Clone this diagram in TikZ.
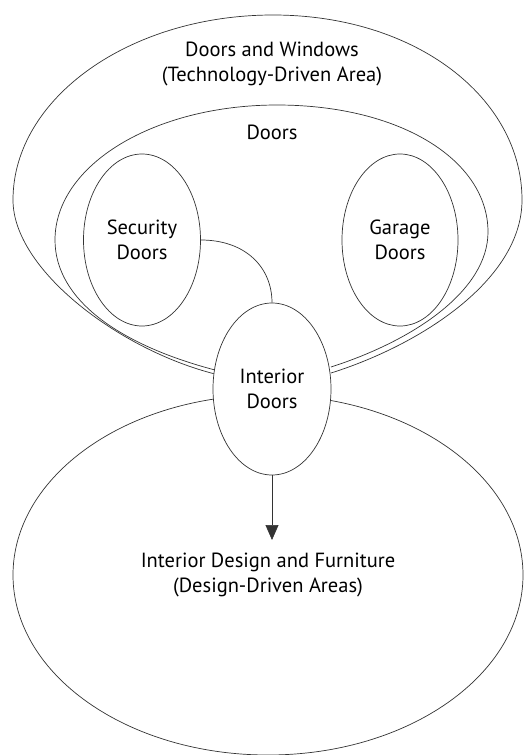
\documentclass[tikz,border=0pt]{standalone}
\usepackage{fontspec}
\setmainfont{PT Sans}
\usetikzlibrary{shapes.geometric, arrows.meta, positioning}
\definecolor{linegray}{HTML}{333333}

\begin{document}
\begin{tikzpicture}[
  x=1pt, y=-1pt,
  region/.style={draw=linegray, line width=0.7pt},
  zone/.style={ellipse, draw=linegray, line width=0.7pt, fill=white, align=center, font=\fontsize{20.5}{25}\selectfont, inner sep=0pt},
  tag/.style={align=center, font=\fontsize{20.5}{25}\selectfont},
  arrow/.style={-{Triangle[length=15pt, width=13pt]}, draw=linegray, line width=0.7pt}
]
  \useasboundingbox (0,0) rectangle (526,755);

  % outer regions, closing under the interior doors node
  \draw[region] (215,374) .. controls (120,350) and (13,270) .. (13,200)
    .. controls (13,98) and (130,15) .. (273,15)
    .. controls (416,15) and (522,98) .. (522,200)
    .. controls (522,280) and (420,345) .. (331,373);
  \draw[region] (215,370) .. controls (120,345) and (55,300) .. (55,240)
    .. controls (55,165) and (154,105) .. (277,105)
    .. controls (400,105) and (488,160) .. (488,232)
    .. controls (488,290) and (415,340) .. (331,367);

  \node[tag] (windows) at (272,64) {Doors and Windows\\(Technology-Driven Area)};
  \node[tag] (doors) at (272,132) {Doors};

  \node[zone, minimum width=510, minimum height=360] (design) at (268,575)
    {Interior Design and Furniture\\(Design-Driven Areas)};

  \node[zone, minimum width=117, minimum height=172] (security) at (142,240) {Security\\Doors};
  \node[zone, minimum width=116, minimum height=172] (garage) at (400,240) {Garage\\Doors};
  \node[zone, minimum width=118, minimum height=172] (interior) at (272,389) {Interior\\Doors};

  \coordinate (tip) at (272,540);

  \draw[region] (security.east) .. controls +(45,0) and +(0,-35) .. (interior.north);
  \draw[arrow] (interior.south) -- (tip);
\end{tikzpicture}
\end{document}
